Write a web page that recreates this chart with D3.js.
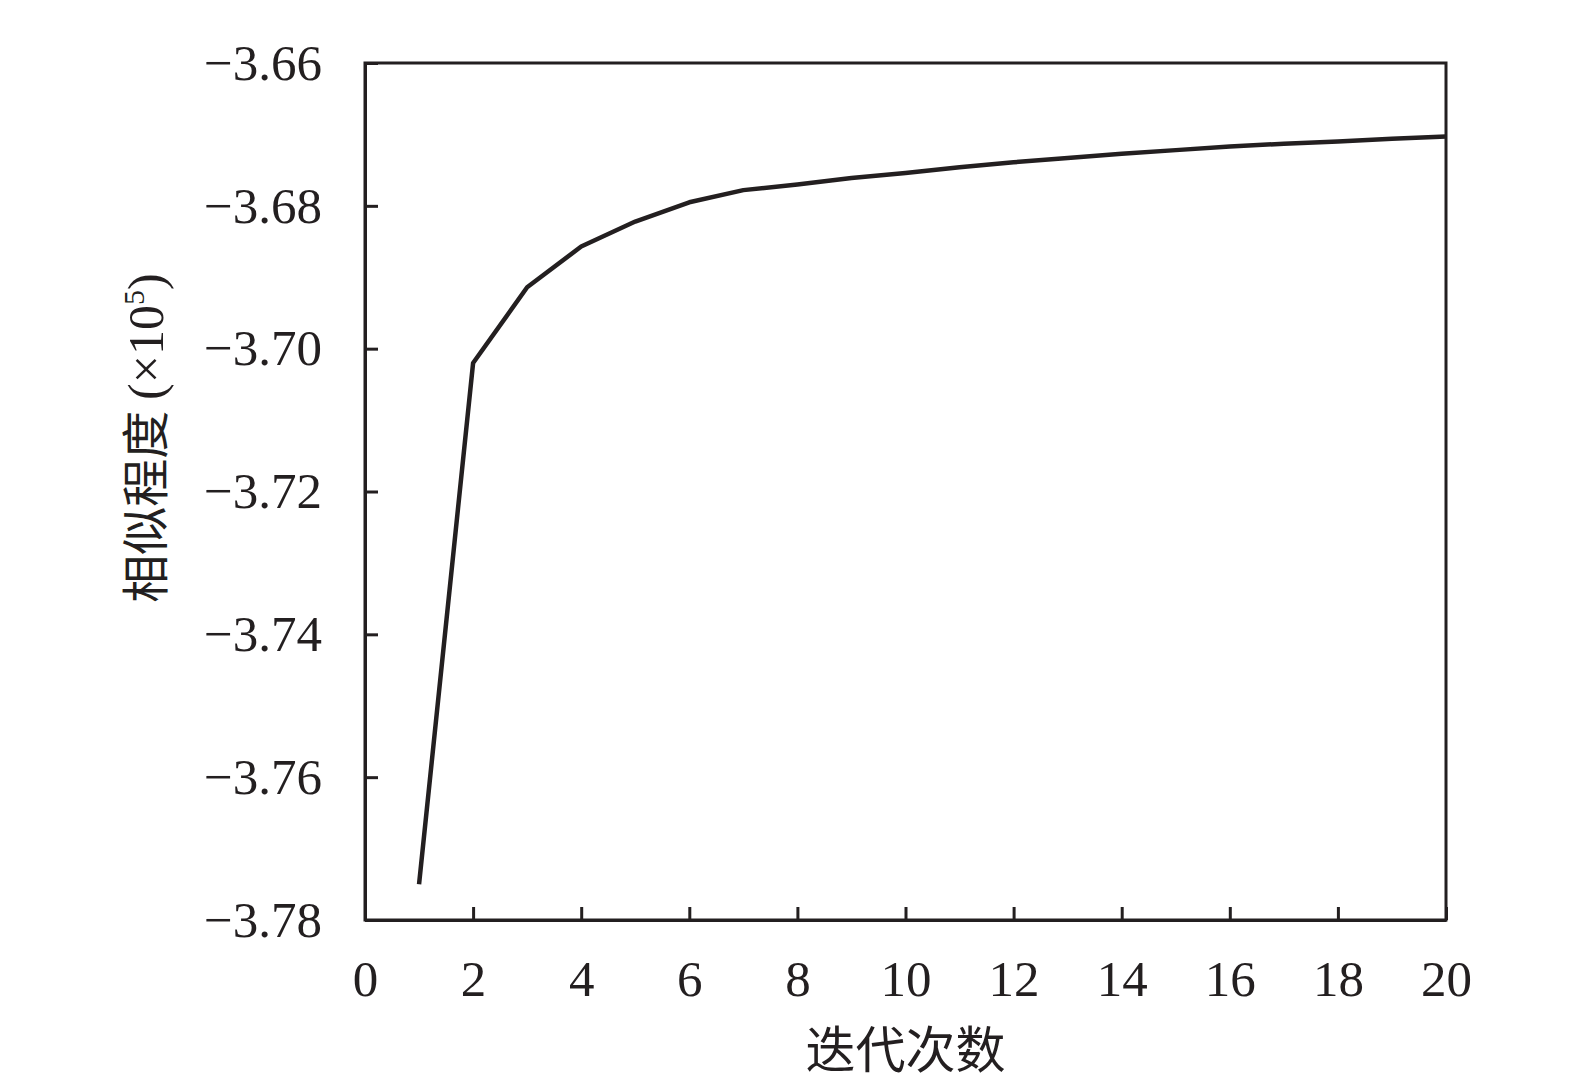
<!DOCTYPE html>
<meta charset="utf-8">
<head>
<style>
body { margin: 0; background: #fff; overflow: hidden; }
svg { display: block; }
.axis text { font-family: "Liberation Serif", "Times New Roman", serif; font-size: 51px; fill: #231f20; }
.axis path, .axis line { stroke: #231f20; stroke-width: 3px; }
.title { font-family: "Noto Sans CJK SC", sans-serif; font-size: 48px; fill: #231f20; }
</style>
<script src="https://cdnjs.cloudflare.com/ajax/libs/d3/7.8.5/d3.min.js"></script>
</head>
<body>
<div id="chart"></div>
<script>
var iterations = [1, 2, 3, 4, 5, 6, 7, 8, 9, 10, 11, 12, 13, 14, 15, 16, 17, 18, 19, 20]
var similarity = [-3.7750, -3.7020, -3.6914, -3.6857, -3.6822, -3.6795, -3.6778, -3.6770, -3.6761, -3.6754,
                  -3.6746, -3.6739, -3.6733, -3.6727, -3.6722, -3.6717, -3.6713, -3.6710, -3.6706, -3.6703]
var xTicks = [0, 2, 4, 6, 8, 10, 12, 14, 16, 18, 20]
var yTicks = [-3.78, -3.76, -3.74, -3.72, -3.70, -3.68, -3.66]

var margin = {top: 63, right: 129, bottom: 163, left: 365},
    width = 1575 - margin.left - margin.right,
    height = 1083 - margin.top - margin.bottom;

var x = d3.scaleLinear().domain([0, 20]).range([0, width]);
var y = d3.scaleLinear().domain([-3.78, -3.66]).range([height, 0]);

var svg = d3.select('#chart').append('svg')
    .attr('width', 1575)
    .attr('height', 1083)
  .append('g')
    .attr('transform', 'translate(' + margin.left + ',' + margin.top + ')');

// frame
svg.append('rect')
    .attr('width', width)
    .attr('height', height)
    .attr('fill', 'none')
    .attr('stroke', '#231f20')
    .attr('stroke-width', 3);

svg.append('g')
    .attr('class', 'axis')
    .attr('transform', 'translate(0,' + height + ')')
    .call(d3.axisBottom(x).tickValues(xTicks).tickSize(-13).tickSizeOuter(0).tickPadding(40).tickFormat(d3.format('d')));

svg.append('g')
    .attr('class', 'axis')
    .call(d3.axisLeft(y).tickValues(yTicks).tickSize(-13).tickSizeOuter(0).tickPadding(43).tickFormat(d3.format('.2f')));

var line = d3.line()
    .x(function(d, i) { return x(iterations[i]) })
    .y(function(d) { return y(d) });

svg.append('path')
    .datum(similarity)
    .attr('d', line)
    .attr('fill', 'none')
    .attr('stroke', '#231f20')
    .attr('stroke-width', 4.5)
    .attr('stroke-linejoin', 'round');

// axis titles
svg.append('text')
    .attr('class', 'title')
    .style('font-size', '50px')
    .attr('x', width / 2)
    .attr('y', height + 148)
    .attr('text-anchor', 'middle')
    .text('迭代次数');

var yt = svg.append('text')
    .attr('class', 'title')
    .attr('transform', 'translate(' + (146 - margin.left + 17) + ',' + (438 - margin.top) + ') rotate(-90)')
    .attr('text-anchor', 'middle');
yt.append('tspan').text('相似程度 ');
yt.append('tspan').style('font-family', '"Liberation Serif", serif').style('font-size', '50px').text('(×10');
yt.append('tspan').style('font-family', '"Liberation Serif", serif').style('font-size', '30px').attr('dy', -19).text('5');
yt.append('tspan').style('font-family', '"Liberation Serif", serif').style('font-size', '50px').attr('dy', 19).text(')');
</script>
</body>
</html>
